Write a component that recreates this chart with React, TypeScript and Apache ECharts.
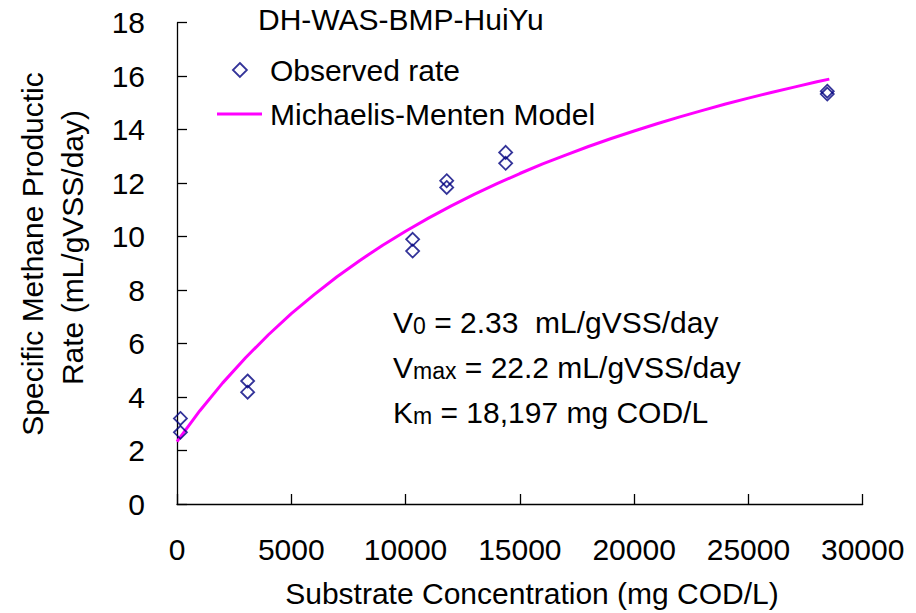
import React, { useEffect, useRef } from "react";
import * as echarts from "echarts";

// Observed specific methane production rate vs substrate concentration
const observedS = [150, 150, 3090, 3090, 10310, 10310, 11800, 11800, 14380, 14380, 28450, 28450];
const observedV = [3.2, 2.68, 4.6, 4.18, 9.9, 9.46, 12.09, 11.84, 13.15, 12.74, 15.44, 15.33];

// Michaelis-Menten model curve (V0 = 2.33, Vmax = 22.2, Km = 18,197)
const modelS = [0, 1000, 2000, 3000, 4000, 5000, 6000, 7000, 8000, 9000, 10000, 11000, 12000, 13000, 14000, 15000, 16000, 17000, 18000, 19000, 20000, 21000, 22000, 23000, 24000, 25000, 26000, 27000, 28000, 28540];
const modelV = [2.33, 3.49, 4.53, 5.47, 6.33, 7.12, 7.83, 8.5, 9.11, 9.68, 10.2, 10.69, 11.15, 11.58, 11.98, 12.36, 12.72, 13.05, 13.37, 13.67, 13.95, 14.22, 14.48, 14.72, 14.96, 15.18, 15.39, 15.59, 15.79, 15.89];

const xTicks = { min: 0, max: 30000, interval: 5000 };
const yTicks = { min: 0, max: 18, interval: 2 };

const chartTitle = "DH-WAS-BMP-HuiYu";
const seriesNames = ["Observed rate", "Michaelis-Menten Model"];
const xTitle = "Substrate Concentration (mg COD/L)";
const yTitleLines = ["Specific Methane Productic", "Rate (mL/gVSS/day)"];

const FONT = "'Liberation Sans', Arial, sans-serif";
const FS = 30;

export default function App() {
  const ref = useRef<HTMLDivElement>(null);

  useEffect(() => {
    if (!ref.current) return;
    const chart = echarts.init(ref.current, null, { renderer: "svg" });

    const subRich = {
      a: { fontSize: 30, lineHeight: 30, verticalAlign: "bottom", fontFamily: FONT, color: "#000" },
      s: { fontSize: 23, lineHeight: 16, verticalAlign: "bottom", fontFamily: FONT, color: "#000" },
    };

    const params = [
      { text: "{a|V}{s|0}{a| = 2.33  mL/gVSS/day}", y: 307 },
      { text: "{a|V}{s|max}{a| = 22.2 mL/gVSS/day}", y: 352.5 },
      { text: "{a|K}{s|m}{a| = 18,197 mg COD/L}", y: 397.5 },
    ];

    chart.setOption({
      animation: false,
      backgroundColor: "#fff",
      textStyle: { fontFamily: FONT },
      title: {
        text: chartTitle,
        left: 258,
        top: 4,
        padding: 0,
        textStyle: { fontSize: FS, fontWeight: "normal", color: "#000", fontFamily: FONT },
      },
      legend: [
        {
          data: [{ name: seriesNames[0], icon: "diamond" }],
          left: 232,
          top: 55,
          padding: 0,
          itemWidth: 14,
          itemHeight: 14,
          itemStyle: { color: "transparent", borderColor: "#000080", borderWidth: 1.8 },
          textStyle: { fontSize: FS, color: "#000", fontFamily: FONT, padding: [0, 0, 0, 18] },
          selectedMode: false,
        },
        {
          data: [{ name: seriesNames[1], icon: "rect" }],
          left: 217,
          top: 99,
          padding: 0,
          itemWidth: 45,
          itemHeight: 3,
          itemStyle: { color: "#ff00ff", borderWidth: 0 },
          textStyle: { fontSize: FS, color: "#000", fontFamily: FONT, padding: [0, 0, 0, 3] },
          selectedMode: false,
        },
      ],
      grid: { left: 177, top: 22.7, right: 53.3, bottom: 109, containLabel: false },
      xAxis: {
        type: "value",
        min: xTicks.min,
        max: xTicks.max,
        interval: xTicks.interval,
        axisLine: { show: true, lineStyle: { color: "#000", width: 1.3 } },
        axisTick: { show: true, inside: true, length: 10, lineStyle: { color: "#000", width: 1.3 } },
        axisLabel: { fontSize: FS, color: "#000", margin: 30, fontFamily: FONT, formatter: (v: number) => String(v) },
        splitLine: { show: false },
      },
      yAxis: {
        type: "value",
        min: yTicks.min,
        max: yTicks.max,
        interval: yTicks.interval,
        axisLine: { show: true, lineStyle: { color: "#000", width: 1.3 } },
        axisTick: { show: true, inside: true, length: 10, lineStyle: { color: "#000", width: 1.3 } },
        axisLabel: { fontSize: FS, color: "#000", margin: 32, fontFamily: FONT, formatter: (v: number) => String(v) },
        splitLine: { show: false },
      },
      series: [
        {
          name: seriesNames[0],
          type: "scatter",
          data: observedS.map((s, i) => [s, observedV[i]]),
          symbol: "diamond",
          symbolSize: 13,
          itemStyle: { color: "transparent", borderColor: "#000080", borderWidth: 1.8 },
          z: 3,
        },
        {
          name: seriesNames[1],
          type: "line",
          data: modelS.map((s, i) => [s, modelV[i]]),
          symbol: "none",
          showSymbol: false,
          lineStyle: { color: "#ff00ff", width: 3 },
          itemStyle: { color: "#ff00ff" },
          z: 2,
        },
      ],
      graphic: [
        {
          type: "text",
          x: 532,
          y: 593,
          style: { text: xTitle, font: `${FS}px ${FONT}`, fill: "#000", textAlign: "center", textVerticalAlign: "middle" },
        },
        {
          type: "text",
          x: 32,
          y: 254,
          rotation: Math.PI / 2,
          style: { text: yTitleLines[0], font: `${FS}px ${FONT}`, fill: "#000", textAlign: "center", textVerticalAlign: "middle" },
        },
        {
          type: "text",
          x: 72,
          y: 247.5,
          rotation: Math.PI / 2,
          style: { text: yTitleLines[1], font: `${FS}px ${FONT}`, fill: "#000", textAlign: "center", textVerticalAlign: "middle" },
        },
        ...params.map((p) => ({
          type: "text",
          x: 393,
          y: p.y,
          style: { text: p.text, rich: subRich, textAlign: "left", textVerticalAlign: "top", fill: "#000" },
        })),
      ],
    });

    return () => chart.dispose();
  }, []);

  return (
    <div
      ref={ref}
      style={{ position: "absolute", left: 0, top: 0, width: 916, height: 613, background: "#fff" }}
    />
  );
}
